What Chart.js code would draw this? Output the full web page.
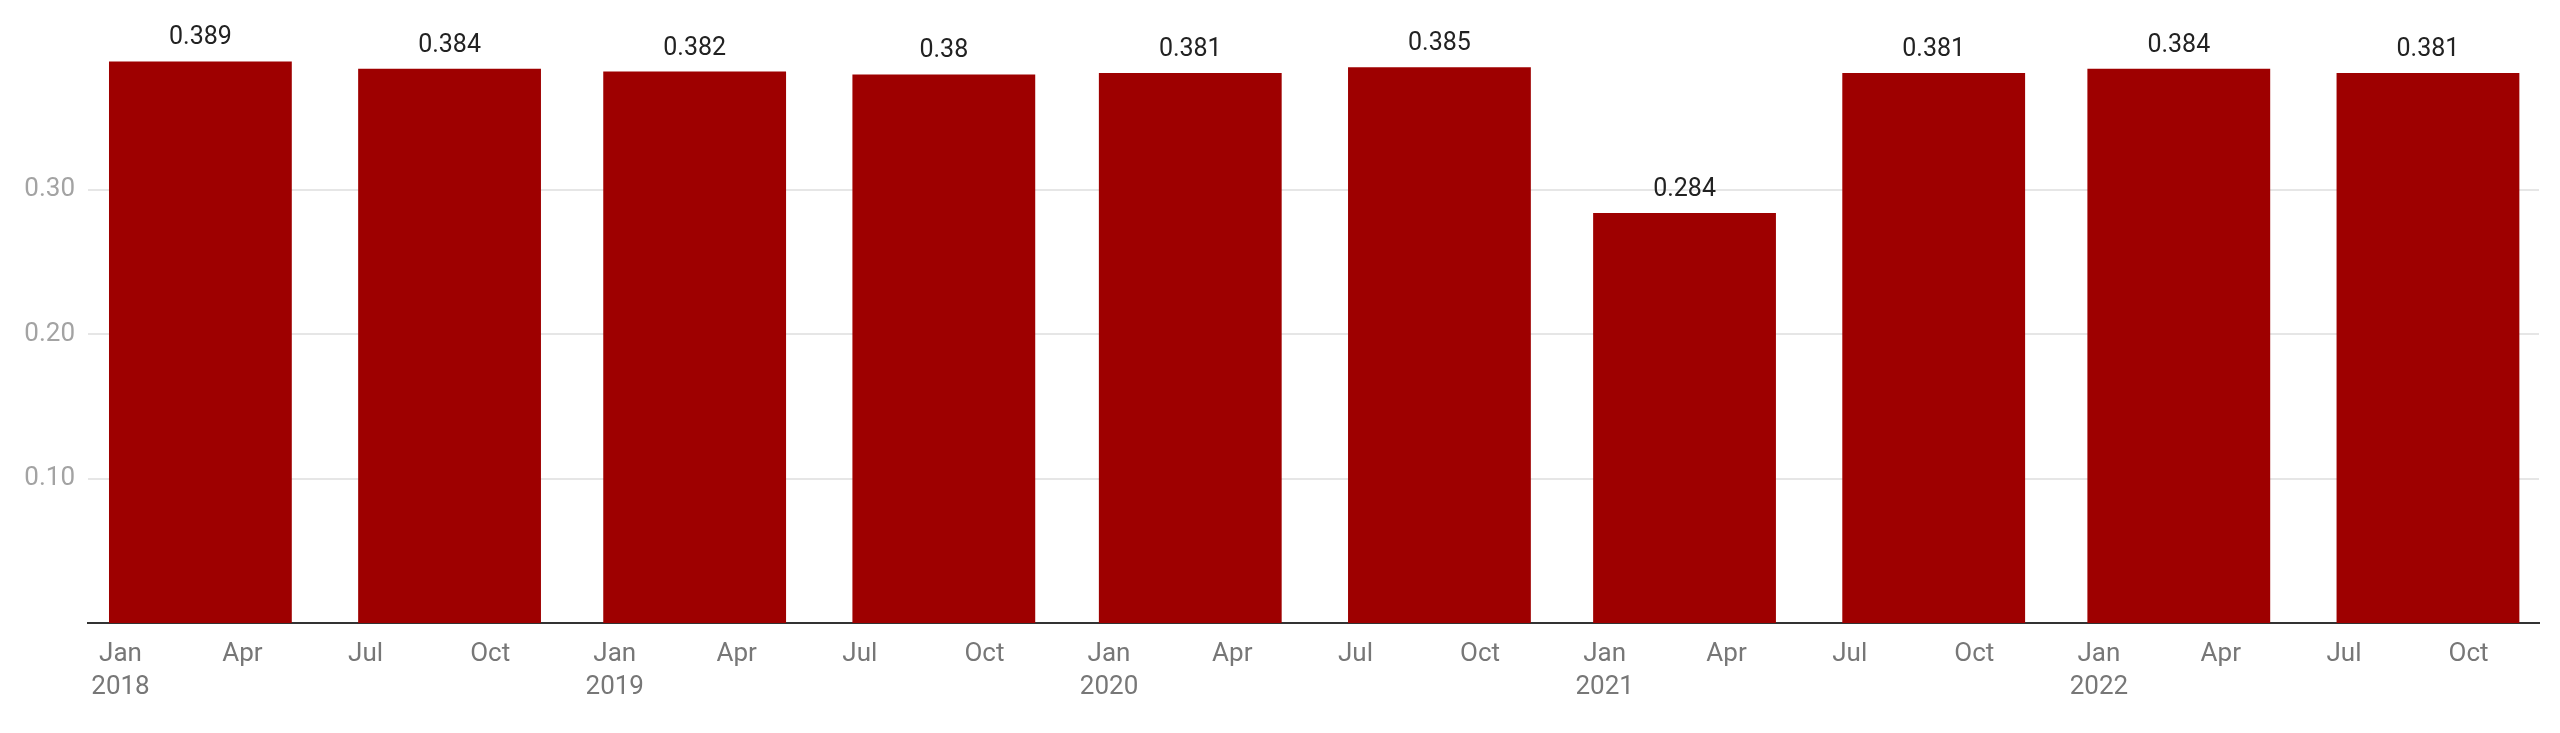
<!DOCTYPE html>
<html>
<head>
<meta charset="utf-8">
<script src="https://cdn.jsdelivr.net/npm/chart.js@4.4.0/dist/chart.umd.min.js"></script>
<style>
  html, body { margin: 0; padding: 0; background: #fff; }
  #wrap { width: 2560px; height: 733px; position: relative; }
</style>
</head>
<body>
<div id="wrap"><canvas id="chart"></canvas></div>
<script>
// half-year bars, placed on a day axis counted from 1 Jan 2018
const barDates = ['2018-03-01', '2018-09-01', '2019-03-01', '2019-09-01', '2020-03-01',
  '2020-09-01', '2021-03-01', '2021-09-01', '2022-03-01', '2022-09-01'];
const barValues = [0.389, 0.384, 0.382, 0.38, 0.381, 0.385, 0.284, 0.381, 0.384, 0.381];

const tickDates = ['2018-01-01', '2018-04-01', '2018-07-01', '2018-10-01',
  '2019-01-01', '2019-04-01', '2019-07-01', '2019-10-01',
  '2020-01-01', '2020-04-01', '2020-07-01', '2020-10-01',
  '2021-01-01', '2021-04-01', '2021-07-01', '2021-10-01',
  '2022-01-01', '2022-04-01', '2022-07-01', '2022-10-01'];
const tickLabels = [['Jan', '2018'], 'Apr', 'Jul', 'Oct',
  ['Jan', '2019'], 'Apr', 'Jul', 'Oct',
  ['Jan', '2020'], 'Apr', 'Jul', 'Oct',
  ['Jan', '2021'], 'Apr', 'Jul', 'Oct',
  ['Jan', '2022'], 'Apr', 'Jul', 'Oct'];
const yTicks = [0.1, 0.2, 0.3];

const origin = Date.UTC(2018, 0, 1);
function dayOf(str) {
  const p = str.split('-').map(Number);
  return (Date.UTC(p[0], p[1] - 1, p[2]) - origin) / 86400000;
}

// value labels over the bars
const barLabels = {
  id: 'barLabels',
  afterDatasetsDraw(chart) {
    const ctx = chart.ctx;
    const meta = chart.getDatasetMeta(0);
    ctx.save();
    ctx.font = '25px Roboto';
    ctx.fillStyle = '#222';
    ctx.textAlign = 'center';
    ctx.textBaseline = 'alphabetic';
    meta.data.forEach((bar, i) => {
      ctx.fillText(String(barValues[i]), bar.x, bar.y - 17);
    });
    ctx.restore();
  }
};

function build() {
  new Chart(document.getElementById('chart'), {
    type: 'bar',
    data: {
      datasets: [{
        data: barDates.map((d, i) => ({ x: dayOf(d), y: barValues[i] })),
        backgroundColor: '#9e0000',
        borderWidth: 0,
        // width is taken from the smallest gap (a 90 day quarter tick), bars cover ~135 days
        barPercentage: 1.5,
        categoryPercentage: 1
      }]
    },
    options: {
      responsive: true,
      maintainAspectRatio: false,
      animation: false,
      layout: { padding: { top: 60, right: 21, bottom: 0, left: 0 } },
      plugins: { legend: { display: false }, tooltip: { enabled: false } },
      scales: {
        x: {
          type: 'linear',
          offset: false,
          min: -24,
          max: 1786,
          afterBuildTicks(scale) {
            scale.ticks = tickDates.map(d => ({ value: dayOf(d) }));
          },
          afterFit(scale) { scale.height = 110; },
          grid: { display: false, drawTicks: false },
          border: { display: true, color: '#333', width: 2 },
          ticks: {
            autoSkip: false,
            maxRotation: 0,
            padding: 15,
            color: '#777',
            font: { family: 'Roboto', size: 26, lineHeight: 1.28 },
            callback: (v, i) => tickLabels[i]
          }
        },
        y: {
          min: 0,
          max: 0.39,
          afterBuildTicks(scale) {
            scale.ticks = yTicks.map(v => ({ value: v }));
          },
          afterFit(scale) { scale.width = 88; },
          grid: { color: '#e6e6e6', lineWidth: 2, drawTicks: false },
          border: { display: false },
          ticks: {
            padding: 13,
            color: '#a3a3a3',
            font: { family: 'Roboto', size: 26 },
            callback: v => v.toFixed(2)
          }
        }
      }
    },
    plugins: [barLabels]
  });
}

if (document.fonts && document.fonts.load) {
  document.fonts.load('25px Roboto').then(build, build);
} else {
  build();
}
</script>
</body>
</html>
